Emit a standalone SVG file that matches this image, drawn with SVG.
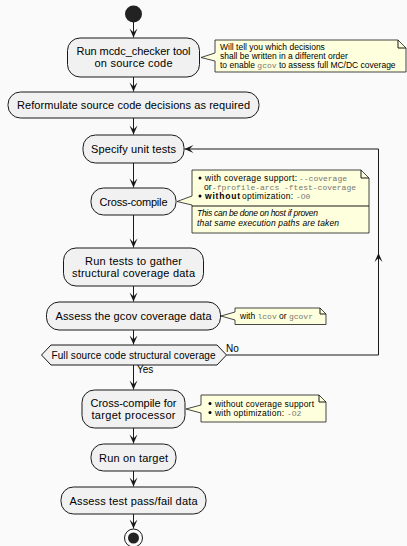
<svg xmlns="http://www.w3.org/2000/svg" width="407" height="546" viewBox="0 0 407 546">
<style>
.bg{fill:#FAFAFA}
.act{fill:#F1F1F1;stroke:#181818;stroke-width:1}
.note{fill:#FEFFDD;stroke:#181818;stroke-width:0.8}
.t{font-family:"Liberation Sans",Arial,sans-serif;font-size:11px;fill:#000;text-anchor:middle}
.h{font-family:"Liberation Sans",Arial,sans-serif;font-size:10px;fill:#000;text-anchor:middle}
.n{font-family:"Liberation Sans",Arial,sans-serif;font-size:8.5px;fill:#000}
.m{font-family:"Liberation Mono","Courier New",monospace;font-size:8px;fill:#777}
.l{font-family:"Liberation Sans",Arial,sans-serif;font-size:10px;fill:#000}
.ln{fill:none;stroke:#181818;stroke-width:1}
</style>
<defs>
<marker id="ah" markerUnits="userSpaceOnUse" markerWidth="12" markerHeight="12" viewBox="-10 -6 12 12" refX="0" refY="0" orient="auto">
<path d="M0,0 L-9,-4 L-5,0 L-9,4 Z" fill="#181818"/>
</marker>
</defs>
<rect class="bg" x="0" y="0" width="407" height="546"/>

<g id="connectors">
<path class="ln" d="M133.5,22 V37.5" marker-end="url(#ah)"/>
<path class="ln" d="M133.5,77 V91.5" marker-end="url(#ah)"/>
<path class="ln" d="M133.5,118 V134.5" marker-end="url(#ah)"/>
<path class="ln" d="M133.5,163 V187.5" marker-end="url(#ah)"/>
<path class="ln" d="M133.5,215 V247.5" marker-end="url(#ah)"/>
<path class="ln" d="M133.5,286 V301.5" marker-end="url(#ah)"/>
<path class="ln" d="M133.5,330 V344.5" marker-end="url(#ah)"/>
<path class="ln" d="M133.5,365 V389.5" marker-end="url(#ah)"/>
<path class="ln" d="M133.5,428 V443.5" marker-end="url(#ah)"/>
<path class="ln" d="M133.5,471 V486.5" marker-end="url(#ah)"/>
<path class="ln" d="M133.5,514 V528.5" marker-end="url(#ah)"/>
<path class="ln" d="M226.5,355 H378.5 V253" marker-end="url(#ah)"/>
<path class="ln" d="M378.5,253 V149 H184.5" marker-end="url(#ah)"/>
<text class="l" x="137" y="373">Yes</text>
<text class="l" x="226" y="352">No</text>
</g>

<g id="start">
<circle cx="133.5" cy="14" r="8.5" fill="#222222"/>
</g>

<g id="n1">
<rect class="act" x="67.5" y="38" width="132" height="39" rx="12.5"/>
<text class="t" x="133.5" y="55" textLength="114">Run mcdc_checker tool</text>
<text class="t" x="133.5" y="67" textLength="78">on source code</text>
</g>
<g id="note1">
<path class="note" d="M215,40 H398 L406,48 V72 H215 V61 L201,57.5 L215,53 Z"/>
<path class="ln" d="M398,40 V48 H406" stroke-width="0.8"/>
<text class="n" x="220" y="50">Will tell you which decisions</text>
<text class="n" x="220" y="59">shall be written in a different order</text>
<text class="n" x="220" y="68">to enable <tspan class="m">gcov</tspan> to assess full MC/DC coverage</text>
</g>

<g id="n2">
<rect class="act" x="8" y="92" width="251" height="26" rx="12.5"/>
<text class="t" x="133.5" y="109" textLength="233">Reformulate source code decisions as required</text>
</g>

<g id="n3">
<rect class="act" x="83" y="135" width="101" height="28" rx="12.5"/>
<text class="t" x="133.5" y="153" textLength="85">Specify unit tests</text>
</g>

<g id="n4">
<rect class="act" x="91" y="188" width="85" height="27" rx="12.5"/>
<text class="t" x="133.5" y="205.5" textLength="68">Cross-compile</text>
</g>
<g id="note2">
<path class="note" d="M192,170 H361 L369,178 V233 H192 V205 L177,201.5 L192,196 Z"/>
<path class="ln" d="M361,170 V178 H369" stroke-width="0.8"/>
<line class="ln" x1="192" y1="206" x2="369" y2="206" stroke-width="0.8"/>
<circle cx="200" cy="178" r="1.5" fill="#000"/>
<text class="n" x="205" y="181" textLength="92">with coverage support:</text>
<text class="m" x="299" y="181">--coverage</text>
<text class="n" x="204" y="190">or</text>
<text class="m" x="212" y="190">-fprofile-arcs -ftest-coverage</text>
<circle cx="200" cy="196" r="1.5" fill="#000"/>
<text class="n" x="205" y="199" font-weight="bold" textLength="35">without</text>
<text class="n" x="242" y="199" textLength="51">optimization:</text>
<text class="m" x="296" y="199">-O0</text>
<text class="n" x="197" y="216" font-style="italic" textLength="121">This can be done on host if proven</text>
<text class="n" x="197" y="225.5" font-style="italic" textLength="142">that same execution paths are taken</text>
</g>

<g id="n5">
<rect class="act" x="63.5" y="248" width="140" height="38" rx="12.5"/>
<text class="t" x="133.5" y="264.5" textLength="97">Run tests to gather</text>
<text class="t" x="133.5" y="276.5" textLength="123">structural coverage data</text>
</g>

<g id="n6">
<rect class="act" x="46.5" y="302" width="174" height="28" rx="12.5"/>
<text class="t" x="133.5" y="320" textLength="156">Assess the gcov coverage data</text>
</g>
<g id="note3">
<path class="note" d="M235,308 H320 L326,314 V324.5 H235 V320 L221,316 L235,312 Z"/>
<path class="ln" d="M320,308 V314 H326" stroke-width="0.8"/>
<text class="n" x="240" y="319">with <tspan class="m">lcov</tspan> or <tspan class="m">gcovr</tspan></text>
</g>

<g id="decision">
<polygon class="act" points="41.5,355 51,345 217,345 226.5,355 217,365 51,365"/>
<text class="h" x="133.5" y="358.5" textLength="164">Full source code structural coverage</text>
</g>

<g id="n7">
<rect class="act" x="82" y="390" width="103" height="38" rx="12.5"/>
<text class="t" x="133.5" y="406.5" textLength="86">Cross-compile for</text>
<text class="t" x="133.5" y="418.5" textLength="84">target processor</text>
</g>
<g id="note4">
<path class="note" d="M201,395 H319 L326,402 V422 H201 V413 L186,409 L201,405 Z"/>
<path class="ln" d="M319,395 V402 H326" stroke-width="0.8"/>
<circle cx="210" cy="403.5" r="1.5" fill="#000"/>
<text class="n" x="215" y="406.5" textLength="99">without coverage support</text>
<circle cx="210" cy="412.5" r="1.5" fill="#000"/>
<text class="n" x="215" y="415.5" textLength="69">with optimization:</text>
<text class="m" x="287" y="415.5">-O2</text>
</g>

<g id="n8">
<rect class="act" x="91" y="444" width="85" height="27" rx="12.5"/>
<text class="t" x="133.5" y="461.5" textLength="69">Run on target</text>
</g>

<g id="n9">
<rect class="act" x="61" y="487" width="145" height="27" rx="12.5"/>
<text class="t" x="133.5" y="504.5" textLength="128">Assess test pass/fail data</text>
</g>

<g id="end">
<circle cx="133.5" cy="538" r="9" fill="#FAFAFA" stroke="#181818" stroke-width="1"/>
<circle cx="133.5" cy="538" r="5.5" fill="#222222"/>
</g>
</svg>
